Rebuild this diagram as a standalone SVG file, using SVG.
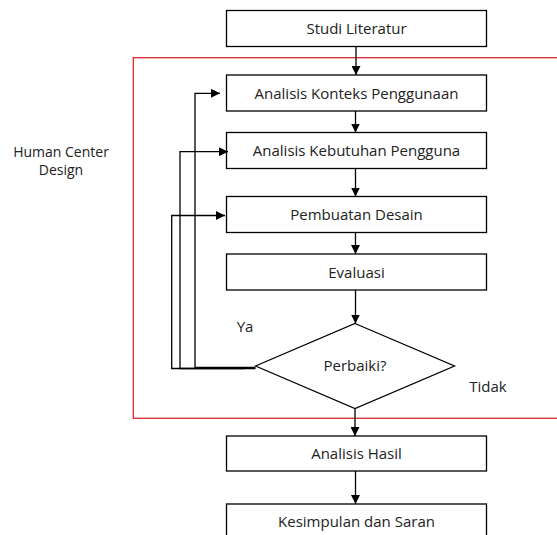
<svg xmlns="http://www.w3.org/2000/svg" width="557" height="535" viewBox="0 0 557 535">
<style>
.box{fill:#fff;stroke:#000;stroke-width:1.3}
.t{font-family:"Open Sans","Liberation Sans",sans-serif;font-size:15px;fill:#222;text-anchor:middle}
.ln{fill:none;stroke:#000;stroke-width:1.3}
</style>
<defs>
<marker id="ah" viewBox="0 0 10 10" refX="10" refY="5" markerWidth="9" markerHeight="9" markerUnits="userSpaceOnUse" orient="auto">
<path d="M0,0 L10,5 L0,10 z" fill="#000"/>
</marker>
</defs>
<rect width="557" height="535" fill="#fff"/>
<g id="hcd-frame">
<rect x="133.3" y="57.7" width="440" height="360.6" fill="none" stroke="#d9262b" stroke-width="1.3"/>
<text class="t" x="61" y="157" style="font-size:14px">Human Center</text>
<text class="t" x="61" y="175" style="font-size:14px">Design</text>
</g>
<g id="n1"><rect class="box" x="226.5" y="10.5" width="260" height="36"/><text class="t" x="356.5" y="33.5">Studi Literatur</text></g>
<g id="n2"><rect class="box" x="226.5" y="75" width="260" height="36"/><text class="t" x="356.5" y="98.5">Analisis Konteks Penggunaan</text></g>
<g id="n3"><rect class="box" x="226.5" y="132.5" width="260" height="36"/><text class="t" x="356.5" y="156">Analisis Kebutuhan Pengguna</text></g>
<g id="n4"><rect class="box" x="226.5" y="196.5" width="260" height="36"/><text class="t" x="356.5" y="220">Pembuatan Desain</text></g>
<g id="n5"><rect class="box" x="226.5" y="254" width="260" height="36"/><text class="t" x="356.5" y="277.5">Evaluasi</text></g>
<g id="n6"><polygon class="box" points="355,323.5 454.5,366 355,408.5 255.5,366"/><text class="t" x="355" y="371">Perbaiki?</text></g>
<g id="n7"><rect class="box" x="226.5" y="436" width="260" height="35"/><text class="t" x="356.5" y="459">Analisis Hasil</text></g>
<g id="n8"><rect class="box" x="226.5" y="504" width="260" height="36"/><text class="t" x="356.5" y="527">Kesimpulan dan Saran</text></g>
<g id="labels">
<text class="t" x="245" y="332">Ya</text>
<text class="t" x="488" y="392">Tidak</text>
</g>
<g id="connectors">
<line class="ln" x1="356" y1="46.5" x2="356" y2="75" marker-end="url(#ah)"/>
<line class="ln" x1="355.5" y1="111" x2="355.5" y2="132.5" marker-end="url(#ah)"/>
<line class="ln" x1="355.5" y1="168.5" x2="355.5" y2="196.5" marker-end="url(#ah)"/>
<line class="ln" x1="355.5" y1="232.5" x2="355.5" y2="254" marker-end="url(#ah)"/>
<line class="ln" x1="355.5" y1="290" x2="355.5" y2="323.5" marker-end="url(#ah)"/>
<line class="ln" x1="355" y1="408.5" x2="355" y2="436" marker-end="url(#ah)"/>
<line class="ln" x1="355.5" y1="471" x2="355.5" y2="504" marker-end="url(#ah)"/>
<polyline class="ln" points="255.5,367.5 195,367.5 195,93.3 220,93.3" marker-end="url(#ah)"/>
<polyline class="ln" points="255.5,368.5 180,368.5 180,151.7 228,151.7" marker-end="url(#ah)"/>
<polyline class="ln" points="245,368.5 171.7,368.5 171.7,215.5 225,215.5" marker-end="url(#ah)"/>
</g>
</svg>
